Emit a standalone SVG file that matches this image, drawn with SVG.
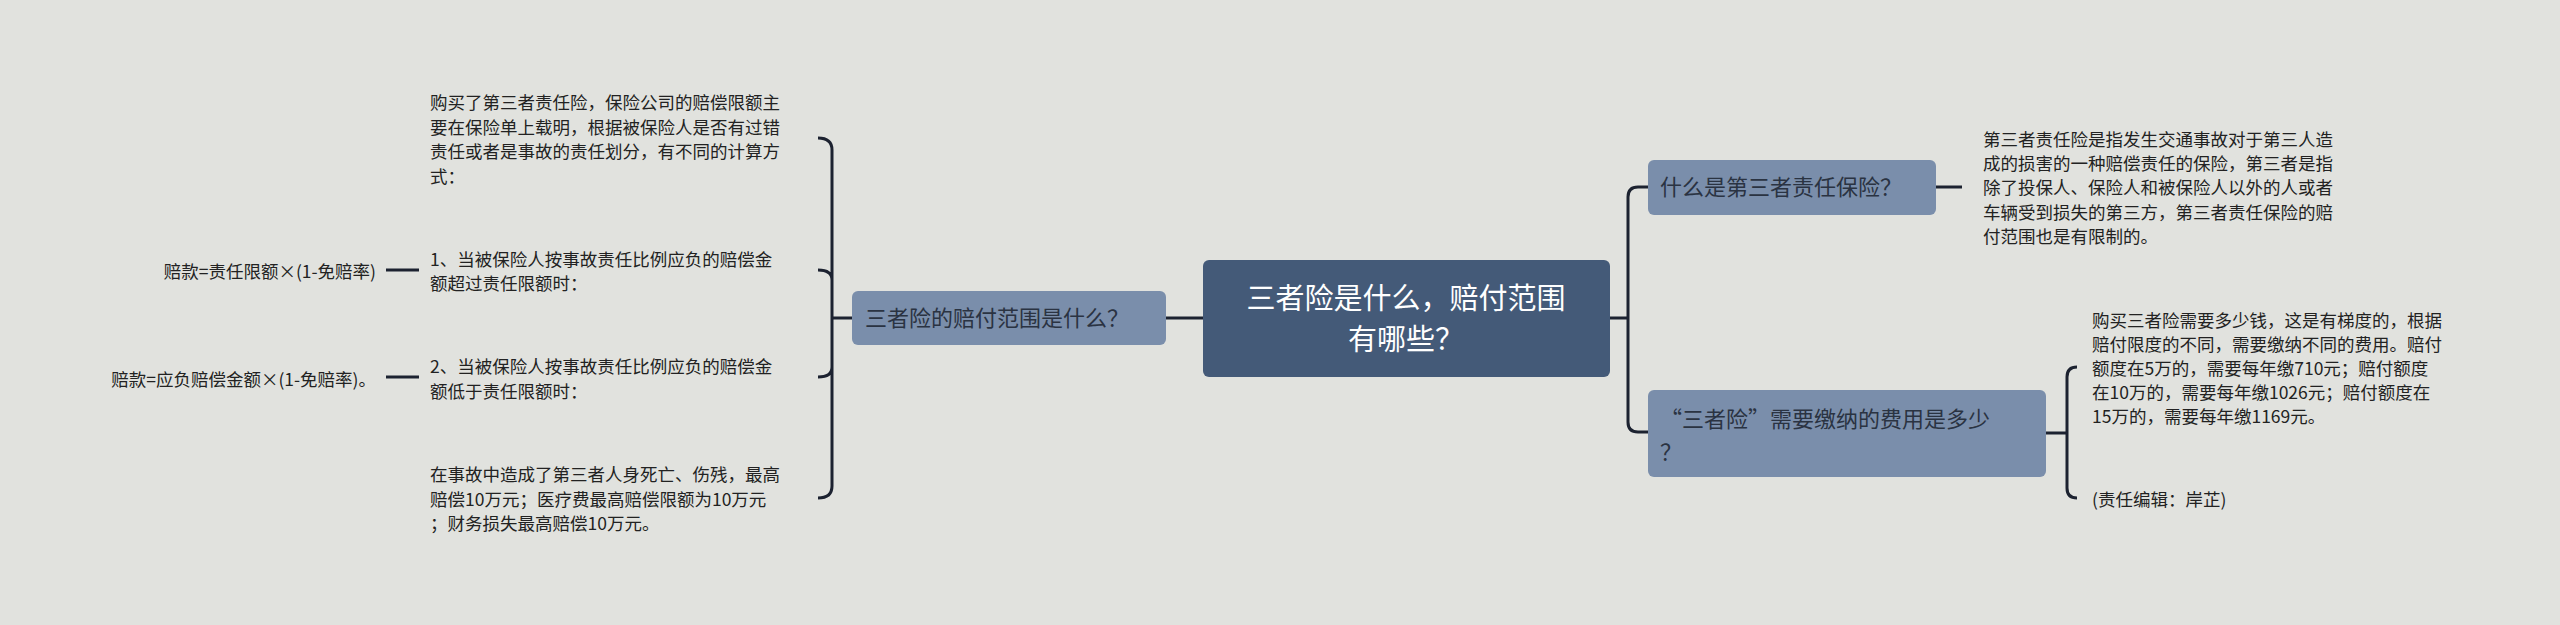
<svg xmlns="http://www.w3.org/2000/svg" width="2560" height="625" viewBox="0 0 2560 625">
<style>
text{font-family:"Noto Sans CJK SC","Noto Sans",sans-serif;}
.t{font-size:17.5px;fill:#222;}
.b{font-size:22px;fill:#2a3342;}
.r{font-size:29px;fill:#fff;}
.c{fill:none;stroke:#1c2230;stroke-width:3;}
</style>
<rect width="2560" height="625" fill="#e1e2de"/>
<g id="connectors">
<path class="c" d="M1610 318H1628M1648 187H1638Q1628 187 1628 197V422Q1628 432 1638 432H1648"/>
<path class="c" d="M1936 187H1962"/>
<path class="c" d="M2046 433H2067M2077 367Q2067 367 2067 377V488Q2067 498 2077 498"/>
<path class="c" d="M1203 318H1166M852 318H832M818 138Q832 138 832 150V486Q832 498 818 498M818 270Q832 270 832 280M818 377Q832 377 832 367"/>
<path class="c" d="M386 270H419M386 377H419"/>
</g>
<g id="root"><rect x="1203" y="260" width="407" height="117" rx="6" fill="#445a78"/>
<text class="r" x="1406" y="309" text-anchor="middle">三者险是什么，赔付范围</text>
<text class="r" x="1406" y="350" text-anchor="middle">有哪些？</text></g>
<g id="left"><rect x="852" y="291" width="314" height="54" rx="6" fill="#7a8eab"/>
<text class="b" x="865" y="326">三者险的赔付范围是什么？</text></g>
<g id="rtop"><rect x="1648" y="160" width="288" height="55" rx="6" fill="#7a8eab"/>
<text class="b" x="1660" y="195">什么是第三者责任保险？</text></g>
<g id="rbot"><rect x="1648" y="390" width="398" height="87" rx="6" fill="#7a8eab"/>
<text class="b" x="1660" y="427">“三者险”需要缴纳的费用是多少</text>
<text class="b" x="1660" y="460">？</text></g>
<g id="rtop-text"><text class="t">
<tspan x="1983" y="146">第三者责任险是指发生交通事故对于第三人造</tspan>
<tspan x="1983" y="170">成的损害的一种赔偿责任的保险，第三者是指</tspan>
<tspan x="1983" y="194">除了投保人、保险人和被保险人以外的人或者</tspan>
<tspan x="1983" y="219">车辆受到损失的第三方，第三者责任保险的赔</tspan>
<tspan x="1983" y="243">付范围也是有限制的。</tspan></text></g>
<g id="rbot-text"><text class="t">
<tspan x="2092" y="327">购买三者险需要多少钱，这是有梯度的，根据</tspan>
<tspan x="2092" y="351">赔付限度的不同，需要缴纳不同的费用。赔付</tspan>
<tspan x="2092" y="375">额度在5万的，需要每年缴710元；赔付额度</tspan>
<tspan x="2092" y="399">在10万的，需要每年缴1026元；赔付额度在</tspan>
<tspan x="2092" y="423">15万的，需要每年缴1169元。</tspan></text></g>
<g id="editor"><text class="t" x="2092" y="506">(责任编辑：岸芷)</text></g>
<g id="l1"><text class="t">
<tspan x="430" y="109">购买了第三者责任险，保险公司的赔偿限额主</tspan>
<tspan x="430" y="134">要在保险单上载明，根据被保险人是否有过错</tspan>
<tspan x="430" y="158">责任或者是事故的责任划分，有不同的计算方</tspan>
<tspan x="430" y="183">式：</tspan></text></g>
<g id="l2"><text class="t">
<tspan x="430" y="266">1、当被保险人按事故责任比例应负的赔偿金</tspan>
<tspan x="430" y="290">额超过责任限额时：</tspan></text></g>
<g id="l3"><text class="t">
<tspan x="430" y="373">2、当被保险人按事故责任比例应负的赔偿金</tspan>
<tspan x="430" y="398">额低于责任限额时：</tspan></text></g>
<g id="l4"><text class="t">
<tspan x="430" y="481">在事故中造成了第三者人身死亡、伤残，最高</tspan>
<tspan x="430" y="506">赔偿10万元；医疗费最高赔偿限额为10万元</tspan>
<tspan x="430" y="530">；财务损失最高赔偿10万元。</tspan></text></g>
<g id="f1"><text class="t" x="376" y="278" text-anchor="end">赔款=责任限额×(1-免赔率)</text></g>
<g id="f2"><text class="t" x="376" y="386" text-anchor="end">赔款=应负赔偿金额×(1-免赔率)。</text></g>
</svg>
